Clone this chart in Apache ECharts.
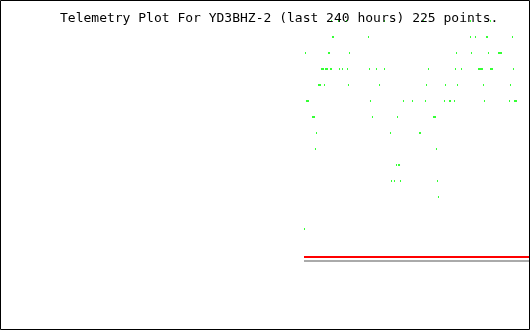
<!DOCTYPE html>
<html>
<head>
<meta charset="utf-8">
<script src="https://cdn.jsdelivr.net/npm/echarts@6/dist/echarts.min.js"></script>
<style>
html,body{margin:0;padding:0;background:#fff;}
#c{width:530px;height:330px;}
</style>
</head>
<body>
<div id="c"></div>
<script>
// Title
const titleText = "Telemetry Plot For YD3BHZ-2 (last 240 hours) 225 points.";
// Time axis (hours in the 240-hour window)
const hoursMin = 0, hoursMax = 240;
// Telemetry samples: hours in window for each value level
const level15 = [150.23, 153.41, 157.05, 174.32, 192.05, 213.41, 222.5];
const level14 = [150.68, 151.14, 167.05, 213.41, 215.68, 220.68, 221.14, 232.5];
const level13 = [138.41, 148.86, 149.32, 158.41, 207.05, 213.86, 221.59, 226.14, 226.59, 227.05, 227.5];
const level12 = [145.68, 146.14, 146.59, 147.5, 147.95, 148.41, 149.77, 150.23, 153.86, 155.23, 157.5, 167.5, 170.68, 174.32, 194.32, 206.59, 209.32, 217.05, 217.5, 217.95, 218.41, 218.86, 222.5, 222.95, 223.41, 232.95];
const level11 = [144.32, 144.77, 145.23, 147.05, 157.95, 172.05, 193.41, 202.05, 207.5, 219.32, 231.59];
const level10 = [138.86, 139.32, 139.77, 167.95, 182.95, 187.05, 192.95, 201.59, 203.86, 204.32, 206.14, 219.77, 231.14, 233.41, 233.86, 234.32];
const level9 = [141.59, 142.05, 142.5, 168.86, 180.23, 196.59, 197.05, 197.5];
const level8 = [143.41, 177.05, 190.23, 190.68];
const level7 = [142.95, 197.95];
const level6 = [179.77, 180.68, 181.14];
const level5 = [177.5, 178.86, 181.59, 198.41];
const level4 = [198.86];
const level2 = [137.95];
// Reference lines (start/end hours, value)
const redLineHours = [137.73, 240];
const redLineValue = 0.25;
const grayLineHours = [137.73, 240];
const grayLineValue = 0;

const levels = {15: level15, 14: level14, 13: level13, 12: level12, 11: level11, 10: level10,
  9: level9, 8: level8, 7: level7, 6: level6, 5: level5, 4: level4, 2: level2};
const pts = [];
Object.keys(levels).forEach(k => levels[k].forEach(h => pts.push([h, Number(k)])));

const chart = echarts.init(document.getElementById('c'), null, {renderer: 'canvas'});
chart.setOption({
  animation: false,
  backgroundColor: '#ffffff',
  title: {
    text: titleText,
    left: 55, top: 7,
    textStyle: {fontFamily: 'DejaVu Sans Mono', fontSize: 13, fontWeight: 'normal', color: '#000'}
  },
  grid: {left: 1, right: 1, top: 5, bottom: 69, show: false},
  xAxis: {type: 'value', min: hoursMin, max: hoursMax, show: false},
  yAxis: {type: 'value', min: 0, max: 16, show: false},
  series: [
    {
      type: 'line', clip: false, symbol: 'none', silent: true,
      data: redLineHours.map(h => [h, redLineValue]),
      lineStyle: {color: '#ff0000', width: 2, cap: 'butt'}
    },
    {
      type: 'line', clip: false, symbol: 'none', silent: true,
      data: grayLineHours.map(h => [h, grayLineValue]),
      lineStyle: {color: '#aaaaaa', width: 2, cap: 'butt'}
    },
    {
      type: 'scatter', clip: false, silent: true,
      symbol: 'rect', symbolSize: [1, 2],
      itemStyle: {color: '#00ff00'},
      data: pts, z: 5
    }
  ],
  graphic: [{
    type: 'rect', z: 100, silent: true,
    shape: {x: 0.5, y: 0.5, width: 529, height: 329},
    style: {fill: null, stroke: '#000', lineWidth: 1}
  }]
});
</script>
</body>
</html>
